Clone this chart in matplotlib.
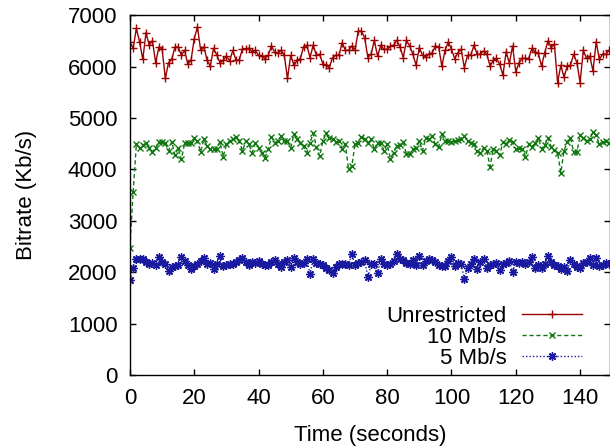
import numpy as np
import matplotlib
matplotlib.use("Agg")
import matplotlib.pyplot as plt

plt.rcParams['font.family'] = ['Liberation Sans', 'DejaVu Sans']

# Bitrate samples (Kb/s), one per second
time_s = np.arange(150)

unrestricted = [
    6480, 6355, 6745, 6480, 6140, 6660, 6415, 6500, 6075, 6380,
    6350, 5770, 6075, 6140, 6380, 6380, 6220, 6315, 6045, 6120,
    6545, 6770, 6315, 6385, 6120, 6010, 6355, 6225, 6075, 6120,
    6205, 6110, 6315, 6120, 6130, 6350, 6350, 6355, 6285, 6315,
    6220, 6205, 6155, 6220, 6400, 6285, 6260, 6315, 6220, 5770,
    6220, 6025, 6120, 6155, 6385, 6415, 6175, 6415, 6220, 6240,
    6055, 6025, 5980, 6175, 6220, 6220, 6465, 6315, 6315, 6400,
    6320, 6690, 6690, 6560, 6175, 6240, 6510, 6205, 6415, 6335,
    6335, 6400, 6415, 6510, 6385, 6175, 6510, 6400, 6240, 6025,
    6370, 6220, 6195, 6240, 6270, 6400, 6385, 6010, 6315, 6480,
    6335, 6155, 6270, 6335, 5980, 6220, 6220, 6415, 6240, 6240,
    6305, 6240, 6010, 6120, 6160, 6045, 5835, 6285, 6065, 6400,
    5900, 6075, 6160, 6160, 6155, 6355, 6285, 6260, 6010, 6270,
    6500, 6370, 6435, 5690, 6025, 5795, 6010, 6025, 6240, 6075,
    5690, 6315, 6160, 6205, 5915, 6480, 6140, 6240, 6240, 6315,
]

limit_10mb = [
    2480, 3565, 4485, 4420, 4475, 4505, 4420, 4340, 4420, 4540,
    4540, 4505, 4360, 4540, 4275, 4420, 4195, 4505, 4505, 4520,
    4615, 4550, 4340, 4585, 4455, 4390, 4390, 4390, 4540, 4245,
    4485, 4550, 4585, 4635, 4550, 4360, 4550, 4485, 4325, 4505,
    4420, 4325, 4230, 4390, 4635, 4520, 4550, 4650, 4550, 4560,
    4420, 4680, 4585, 4520, 4455, 4325, 4520, 4700, 4440, 4260,
    4550, 4700, 4615, 4600, 4535, 4550, 4405, 4485, 4000, 4065,
    4485, 4520, 4635, 4585, 4520, 4600, 4390, 4520, 4520, 4360,
    4485, 4210, 4325, 4455, 4470, 4535, 4295, 4295, 4390, 4420,
    4550, 4360, 4615, 4585, 4650, 4485, 4440, 4680, 4550, 4545,
    4540, 4550, 4570, 4600, 4650, 4550, 4520, 4485, 4360, 4325,
    4420, 4360, 4055, 4405, 4360, 4275, 4535, 4485, 4570, 4535,
    4390, 4420, 4405, 4245, 4485, 4440, 4505, 4615, 4405, 4470,
    4615, 4440, 4375, 4325, 3935, 4360, 4535, 4615, 4340, 4340,
    4660, 4615, 4550, 4585, 4725, 4660, 4485, 4535, 4550, 4520,
]

limit_5mb = [
    1850, 2075, 2250, 2265, 2265, 2205, 2165, 2185, 2140, 2295,
    2205, 2165, 2025, 2100, 2120, 2140, 2295, 2220, 2140, 2055,
    2120, 2165, 2220, 2285, 2155, 2185, 2055, 2165, 2315, 2120,
    2140, 2155, 2165, 2205, 2230, 2285, 2205, 2140, 2205, 2185,
    2220, 2155, 2140, 2140, 2205, 2230, 2165, 2100, 2205, 2235,
    2100, 2270, 2205, 2165, 2185, 2250, 1970, 2250, 2185, 2165,
    2140, 2090, 2035, 1990, 2100, 2155, 2165, 2155, 2140, 2350,
    2140, 2185, 2205, 2230, 1905, 2155, 2165, 1990, 2250, 2155,
    2140, 2165, 2220, 2350, 2250, 2230, 2185, 2155, 2230, 2140,
    2315, 2140, 2220, 2250, 2230, 2205, 2140, 2120, 2130, 2210,
    2295, 2120, 2185, 2165, 1860, 2090, 2165, 2250, 2055, 2205,
    2250, 2090, 2140, 2165, 2185, 2035, 2165, 2185, 2220, 2010,
    2205, 2185, 2205, 2165, 2205, 2295, 2090, 2140, 2075, 2165,
    2315, 2205, 2140, 2120, 2055, 2100, 2025, 2230, 2165, 2100,
    2075, 2185, 2205, 2270, 2140, 2270, 2120, 2140, 2185, 2170,
]

fig = plt.figure(figsize=(6.10, 4.46), dpi=100)
ax = fig.add_axes([0.213, 0.159, 0.787, 0.807])

ax.plot(time_s, unrestricted, color='#990000', lw=1, ls='-',
        marker='+', ms=6, mew=1, label='Unrestricted')
ax.plot(time_s, limit_10mb, color='#117711', lw=1, ls=(0, (3, 2)),
        marker='x', ms=5, mew=1, label='10 Mb/s')
ax.plot(time_s, limit_5mb, color='#1a1aa0', lw=1, ls=(0, (1, 1.5)),
        marker=(8, 2, 0), ms=6, mew=1, label='5 Mb/s')

ax.set_xlim(0, 149.3)
ax.set_ylim(0, 7000)
ax.set_xticks(range(0, 141, 20))
ax.set_yticks(range(0, 7001, 1000))
ax.tick_params(direction='in', length=4, width=1, top=True, right=True,
               labelsize=16, pad=9)
for s in ax.spines.values():
    s.set_linewidth(1)

ax.set_xlabel('Time (seconds)', fontsize=16, labelpad=12)
ax.set_ylabel('Bitrate (Kb/s)', fontsize=16, labelpad=22)

leg = ax.legend(loc='lower right', bbox_to_anchor=(0.942, 0.018),
                frameon=False, markerfirst=False, fontsize=16,
                handlelength=2.7, handletextpad=0.7, labelspacing=0.0,
                borderpad=0, borderaxespad=0)
# right-justify the labels like gnuplot does
vp = leg._legend_box._children[-1]._children[0]
vp.align = 'right'

fig.savefig('out.png', dpi=100)
